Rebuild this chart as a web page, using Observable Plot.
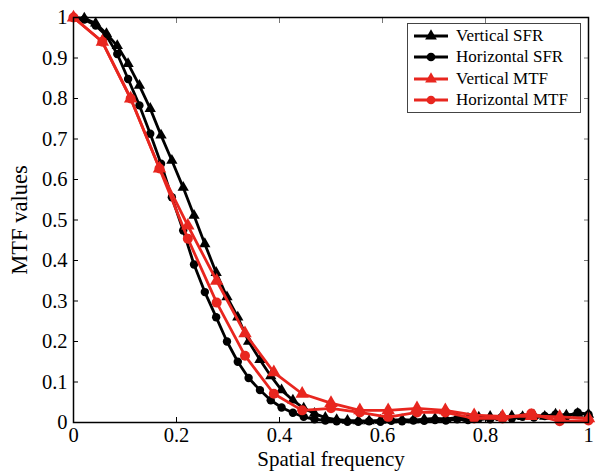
<!DOCTYPE html>
<html>
<head>
<meta charset="utf-8">
<script src="https://cdn.jsdelivr.net/npm/d3@7"></script>
<script src="https://cdn.jsdelivr.net/npm/@observablehq/plot@0.6"></script>
<style>
  html, body { margin: 0; padding: 0; background: #fff; }
  #wrap { position: relative; width: 600px; height: 473px; }
  #chart svg { font-family: "Liberation Serif", "DejaVu Serif", serif !important; }
  #chart svg text { font-family: "Liberation Serif", "DejaVu Serif", serif; }
  #legend { position: absolute; left: 407px; top: 23px; width: 174px; height: 90px; border: 1px solid #444; background: #fff; box-sizing: border-box; font-family: "Liberation Serif", "DejaVu Serif", serif; font-size: 17px; color: #000; padding-top: 1px; }
  #legend .row { display: flex; align-items: center; height: 21.5px; }
  #legend svg { display: block; margin-left: 5px; margin-right: 7px; }
</style>
</head>
<body>
<div id="wrap"><div id="chart"></div><div id="legend"></div></div>
<script>
// Sampling grid of the SFR curves (spatial frequency)
const sfrFreq = [0, 0.021, 0.043, 0.064, 0.085, 0.106, 0.128, 0.149, 0.170, 0.191, 0.213, 0.234, 0.255, 0.277, 0.298, 0.319, 0.340, 0.362, 0.383, 0.404, 0.426, 0.447, 0.468, 0.489, 0.511, 0.532, 0.553, 0.574, 0.596, 0.617, 0.638, 0.660, 0.681, 0.702, 0.723, 0.745, 0.766, 0.787, 0.809, 0.830, 0.851, 0.872, 0.894, 0.915, 0.936, 0.957, 0.979, 1.0];
const verticalSFR = [1.0, 0.998, 0.986, 0.96, 0.93, 0.886, 0.832, 0.775, 0.709, 0.647, 0.58, 0.511, 0.441, 0.37, 0.31, 0.26, 0.20, 0.155, 0.115, 0.08, 0.055, 0.035, 0.022, 0.012, 0.007, 0.005, 0.004, 0.004, 0.005, 0.006, 0.007, 0.006, 0.008, 0.01, 0.009, 0.012, 0.01, 0.013, 0.015, 0.012, 0.016, 0.014, 0.018, 0.015, 0.02, 0.018, 0.022, 0.02];
const horizontalSFR = [1.0, 0.995, 0.98, 0.955, 0.91, 0.848, 0.783, 0.713, 0.639, 0.556, 0.474, 0.39, 0.322, 0.26, 0.2, 0.15, 0.11, 0.08, 0.055, 0.037, 0.024, 0.014, 0.008, 0.005, 0.003, 0.002, 0.002, 0.003, 0.002, 0.004, 0.003, 0.005, 0.004, 0.006, 0.005, 0.008, 0.006, 0.01, 0.008, 0.012, 0.01, 0.014, 0.012, 0.016, 0.02, 0.015, 0.025, 0.02];

// Sampling grid of the MTF curves
const mtfFreq = [0, 0.056, 0.111, 0.167, 0.222, 0.278, 0.333, 0.389, 0.444, 0.5, 0.556, 0.611, 0.667, 0.722, 0.778, 0.833, 0.889, 0.944, 1.0];
const verticalMTF = [1.0, 0.94, 0.80, 0.627, 0.486, 0.35, 0.22, 0.124, 0.071, 0.048, 0.03, 0.03, 0.035, 0.03, 0.018, 0.015, 0.016, 0.014, 0.01];
const horizontalMTF = [1.0, 0.94, 0.80, 0.627, 0.454, 0.296, 0.165, 0.071, 0.03, 0.035, 0.025, 0.013, 0.025, 0.025, 0.01, 0.01, 0.022, 0.003, 0.005];

const xTicks = [0, 0.2, 0.4, 0.6, 0.8, 1];
const yTicks = [0, 0.1, 0.2, 0.3, 0.4, 0.5, 0.6, 0.7, 0.8, 0.9, 1];

const seriesNames = ["Vertical SFR", "Horizontal SFR", "Vertical MTF", "Horizontal MTF"];
const seriesColors = ["#000000", "#000000", "#e8261f", "#e8261f"];
const seriesSymbols = ["triangle", "circle", "triangle", "circle"];

const RED = "#e8261f";
const SERIF = "'Liberation Serif', 'DejaVu Serif', serif";
const fmt = d => String(+(+d).toFixed(1));

const mk = (xs, ys) => xs.map((x, i) => ({x, y: ys[i]}));
const vS = mk(sfrFreq, verticalSFR);
const hS = mk(sfrFreq, horizontalSFR);
const vM = mk(mtfFreq, verticalMTF);
const hM = mk(mtfFreq, horizontalMTF);

const chart = Plot.plot({
  width: 600,
  height: 473,
  marginLeft: 73,
  marginRight: 12,
  marginTop: 17,
  marginBottom: 51,
  style: {fontFamily: SERIF, fontSize: "20px", background: "#fff", color: "#000"},
  x: {domain: [0, 1]},
  y: {domain: [0, 1]},
  marks: [
    Plot.axisX({anchor: "top", ticks: xTicks, tickSize: -5, tickFormat: () => "", label: null, stroke: "#777"}),
    Plot.axisY({anchor: "right", ticks: yTicks, tickSize: -5, tickFormat: () => "", label: null, stroke: "#777"}),
    Plot.axisX({anchor: "bottom", ticks: xTicks, tickSize: -5, tickPadding: 10, tickFormat: fmt, label: null, fontSize: 20.5, fontFamily: SERIF}),
    Plot.axisX({anchor: "bottom", ticks: [], tickSize: 0, label: "Spatial frequency", labelAnchor: "center", labelOffset: 43, labelArrow: "none", fontSize: 21, fontFamily: SERIF}),
    Plot.axisY({anchor: "left", ticks: yTicks, tickSize: -5, tickPadding: 11, tickFormat: fmt, label: null, fontSize: 20.5, fontFamily: SERIF}),
    Plot.axisY({anchor: "left", ticks: [], tickSize: 0, label: "MTF values", labelAnchor: "center", labelOffset: 62, labelArrow: "none", fontSize: 22.5, fontFamily: SERIF}),
    Plot.line(vS, {x: "x", y: "y", stroke: "#000", strokeWidth: 2.8}),
    Plot.dot(vS, {x: "x", y: "y", symbol: "triangle", r: 4.2, fill: "#000"}),
    Plot.line(hS, {x: "x", y: "y", stroke: "#000", strokeWidth: 2.8}),
    Plot.dot(hS, {x: "x", y: "y", symbol: "circle", r: 4.2, fill: "#000"}),
    Plot.line(vM, {x: "x", y: "y", stroke: RED, strokeWidth: 2.8}),
    Plot.dot(vM, {x: "x", y: "y", symbol: "triangle", r: 5, fill: RED}),
    Plot.line(hM, {x: "x", y: "y", stroke: RED, strokeWidth: 2.8}),
    Plot.dot(hM, {x: "x", y: "y", symbol: "circle", r: 5, fill: RED}),
    Plot.frame({stroke: "#000", strokeWidth: 1.5})
  ]
});
document.getElementById("chart").appendChild(chart);

// Legend
const legend = d3.select("#legend");
seriesNames.forEach((name, i) => {
  const row = legend.append("div").attr("class", "row");
  const s = row.append("svg").attr("width", 36).attr("height", 14);
  s.append("line").attr("x1", 1).attr("x2", 35).attr("y1", 7).attr("y2", 7)
    .attr("stroke", seriesColors[i]).attr("stroke-width", 3);
  const sym = seriesSymbols[i] === "triangle" ? d3.symbolTriangle : d3.symbolCircle;
  s.append("path").attr("d", d3.symbol(sym, 60)()).attr("transform", "translate(18,7)")
    .attr("fill", seriesColors[i]);
  row.append("span").text(name);
});
</script>
</body>
</html>
